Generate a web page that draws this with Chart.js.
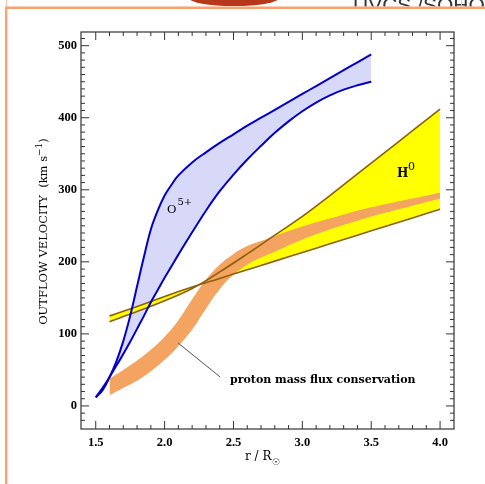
<!DOCTYPE html>
<html><head><meta charset="utf-8">
<script src="https://cdn.jsdelivr.net/npm/chart.js@4.4.1/dist/chart.umd.min.js"></script>
<style>html,body{margin:0;padding:0;background:#fff;overflow:hidden}canvas{display:block}</style>
</head><body>
<canvas id="c" width="485" height="484"></canvas>
<script>
// ---- data ----
const o5X     = [1.5,1.55,1.6,1.65,1.7,1.75,1.8,1.85,1.9,1.95,2.0,2.05,2.1,2.2,2.3,2.4,2.5,2.6,2.7,2.8,2.9,3.0,3.1,3.2,3.3,3.4,3.5];
const o5Upper = [12,22,40,62,90,125,166,207,245,271,292,307,320,338,352,365,377,389,400,411,422,433,444,455,466,477,488];
const o5Lower = [12,25,40,56,72,89,107,125,144,161,178,194,210,241,271,298,321,342,361,379,395,409,421,431,439,445,450];

const h0X     = [1.6,1.8,2.0,2.2,2.4,2.6,2.8,3.0,3.2,3.4,3.6,3.8,4.0];
const h0Steep = [117,131,146,163,186,211,237,263,292,322,352,382,412];
const h0Flat  = [125,138,152,165,177,189,201,213,225,237,249,261,273];

const protonX     = [1.6,1.7,1.8,1.9,2.0,2.1,2.2,2.3,2.4,2.5,2.6,2.7,2.8,3.0,3.2,3.4,3.6,3.8,4.0];
const protonUpper = [38,50,63,78,96,119,148,175,196,211,222,229,236,249,260,271,280,288,296];
const protonLower = [15,25,35,48,64,83,106,135,162,182,196,206,214,231,245,257,268,278,288];

const leaderX = [2.098, 2.403];
const leaderY = [87.4, 40.2];

const xTickValues = [1.5,2.0,2.5,3.0,3.5,4.0];
const yTickValues = [0,100,200,300,400,500];

const labelO5 = ['O','5+'];
const labelH0 = ['H','0'];
const labelProton = 'proton mass flux conservation';
const xTitle = ['r / R','\u2609'];
const yTitle = ['OUTFLOW VELOCITY  (km s','\u22121',')'];

// ---- helpers ----
const pts = (xs, ys) => xs.map((x, i) => ({x: x, y: ys[i]}));
const LAV = 'rgb(216,216,248)', YEL = '#ffff00', ORA = 'rgb(244,164,96)';
const BROWN = '#8c5f0c', BLUE = '#0000c8', CLEAR = 'rgba(0,0,0,0)';
const base = {pointRadius: 0, pointHoverRadius: 0, tension: 0.4, borderWidth: 1};

const datasets = [
  Object.assign({}, base, {data: pts(o5X, o5Lower), borderColor: CLEAR, fill: false, order: 6}),
  Object.assign({}, base, {data: pts(o5X, o5Upper), borderColor: CLEAR, backgroundColor: LAV, fill: '-1', order: 6}),
  Object.assign({}, base, {data: pts(h0X, h0Steep), borderColor: CLEAR, fill: false, order: 5}),
  Object.assign({}, base, {data: pts(h0X, h0Flat), borderColor: CLEAR, backgroundColor: YEL, fill: '-1', order: 5}),
  Object.assign({}, base, {data: pts(protonX, protonLower), borderColor: CLEAR, fill: false, order: 4}),
  Object.assign({}, base, {data: pts(protonX, protonUpper), borderColor: CLEAR, backgroundColor: ORA, fill: '-1', order: 4}),
  Object.assign({}, base, {data: pts(h0X, h0Steep), borderColor: BROWN, borderWidth: 1.6, fill: false, order: 3}),
  Object.assign({}, base, {data: pts(h0X, h0Flat), borderColor: BROWN, borderWidth: 1.6, fill: false, order: 3}),
  Object.assign({}, base, {data: pts(o5X, o5Upper), borderColor: BLUE, borderWidth: 2, fill: false, order: 2}),
  Object.assign({}, base, {data: pts(o5X, o5Lower), borderColor: BLUE, borderWidth: 2, fill: false, order: 2}),
  Object.assign({}, base, {data: pts(leaderX, leaderY), borderColor: '#555', borderWidth: 1, tension: 0, fill: false, order: 1})
];

const chrome = {
  id: 'chrome',
  beforeDraw(chart) {
    const ctx = chart.ctx;
    ctx.save();
    ctx.fillStyle = '#fff';
    ctx.fillRect(0, 0, chart.width, chart.height);
    // cropped page header
    ctx.fillStyle = '#b8361a';
    ctx.beginPath();
    ctx.ellipse(234, -2, 45, 8, 0, 0, Math.PI * 2);
    ctx.fill();
    ctx.save();
    ctx.beginPath(); ctx.rect(0, 0, 485, 6.5); ctx.clip();
    ctx.fillStyle = '#333';
    ctx.font = '21px "Liberation Sans"';
    ctx.textBaseline = 'top';
    ctx.fillText('UVCS /SOHO', 353, -4.5);
    ctx.restore();
    ctx.strokeStyle = '#f6c2b8'; ctx.lineWidth = 1;
    ctx.beginPath(); ctx.moveTo(6.5, 0); ctx.lineTo(6.5, 7); ctx.moveTo(461.5, 0); ctx.lineTo(461.5, 7); ctx.stroke();
    ctx.strokeStyle = '#f9a070'; ctx.lineWidth = 2.5;
    ctx.beginPath(); ctx.moveTo(5, 7.8); ctx.lineTo(485, 7.8); ctx.stroke();
    ctx.lineWidth = 2.3;
    ctx.beginPath(); ctx.moveTo(6.2, 7); ctx.lineTo(6.2, 484); ctx.stroke();
    ctx.restore();
  },
  afterDraw(chart) {
    const ctx = chart.ctx, ca = chart.chartArea;
    const xs = chart.scales.x, ys = chart.scales.y;
    ctx.save();
    // frame
    ctx.strokeStyle = '#333'; ctx.lineWidth = 1.2;
    ctx.strokeRect(ca.left, ca.top, ca.right - ca.left, ca.bottom - ca.top);
    ctx.lineWidth = 1;
    ctx.beginPath();
    for (let k = 14; k <= 41; k++) {
      const v = k / 10;
      const p = xs.getPixelForValue(v);
      if (p < ca.left + 2 || p > ca.right - 2) continue;
      const len = (k % 5 === 0) ? 8 : 4;
      ctx.moveTo(p, ca.bottom); ctx.lineTo(p, ca.bottom - len);
      ctx.moveTo(p, ca.top); ctx.lineTo(p, ca.top + len);
    }
    for (let v = -30; v <= 510; v += 10) {
      const p = ys.getPixelForValue(v);
      if (p < ca.top + 2 || p > ca.bottom - 2) continue;
      const len = (v % 100 === 0) ? 8 : 4;
      ctx.moveTo(ca.left, p); ctx.lineTo(ca.left + len, p);
      ctx.moveTo(ca.right, p); ctx.lineTo(ca.right - len, p);
    }
    ctx.stroke();

    ctx.fillStyle = '#000';
    ctx.textBaseline = 'alphabetic';
    ctx.textAlign = 'left';
    // O5+
    ctx.font = '11.5px "DejaVu Serif"';
    ctx.fillText(labelO5[0], 167, 212.5);
    ctx.font = '10px "DejaVu Serif"';
    ctx.fillText(labelO5[1], 177.5, 205);
    // H0
    ctx.font = 'bold 12px "DejaVu Serif"';
    ctx.fillText(labelH0[0], 397, 176.5);
    ctx.font = '11px "DejaVu Serif"';
    ctx.fillText(labelH0[1], 408, 170);
    // proton label
    ctx.font = 'bold 11px "DejaVu Serif"';
    ctx.fillText(labelProton, 230, 382.5);
    // x title
    ctx.font = '12px "DejaVu Serif"';
    ctx.fillText(xTitle[0], 245, 460);
    const w0 = ctx.measureText(xTitle[0]).width;
    ctx.font = '9px "DejaVu Sans"';
    ctx.fillText(xTitle[1], 245 + w0 + 0.5, 465);
    // y title (rotated)
    ctx.save();
    ctx.font = '11.5px "DejaVu Serif"';
    const a = ctx.measureText(yTitle[0]).width;
    const c = ctx.measureText(yTitle[2]).width;
    ctx.font = '9px "DejaVu Serif"';
    const b = ctx.measureText(yTitle[1]).width;
    const total = a + b + c;
    ctx.translate(47, 231.5);
    ctx.rotate(-Math.PI / 2);
    let x0 = -total / 2;
    ctx.font = '11.5px "DejaVu Serif"';
    ctx.fillText(yTitle[0], x0, 0);
    ctx.font = '9px "DejaVu Serif"';
    ctx.fillText(yTitle[1], x0 + a, -5);
    ctx.font = '11.5px "DejaVu Serif"';
    ctx.fillText(yTitle[2], x0 + a + b, 0);
    ctx.restore();
    ctx.restore();
  }
};

const tickFont = {family: '"Liberation Serif"', size: 12.5, weight: 'bold'};

new Chart(document.getElementById('c'), {
  type: 'line',
  data: {datasets: datasets},
  options: {
    responsive: false,
    animation: false,
    devicePixelRatio: 1,
    events: [],
    layout: {padding: {left: 0, top: 32, right: 31, bottom: 0}},
    plugins: {legend: {display: false}, tooltip: {enabled: false}, title: {display: false}},
    scales: {
      x: {
        type: 'linear', min: 1.393, max: 4.101,
        grid: {display: false, drawTicks: false}, border: {display: false},
        afterBuildTicks: s => { s.ticks = xTickValues.map(v => ({value: v})); },
        afterFit: s => { s.height = 55; },
        ticks: {autoSkip: false, maxRotation: 0, padding: 6, color: '#000', font: tickFont,
                callback: v => Number(v).toFixed(1)}
      },
      y: {
        type: 'linear', min: -32, max: 519,
        grid: {display: false, drawTicks: false}, border: {display: false},
        afterBuildTicks: s => { s.ticks = yTickValues.map(v => ({value: v})); },
        afterFit: s => { s.width = 81; },
        ticks: {autoSkip: false, padding: 4, color: '#000', font: tickFont,
                callback: v => String(v)}
      }
    }
  },
  plugins: [chrome]
});
</script>
</body></html>
